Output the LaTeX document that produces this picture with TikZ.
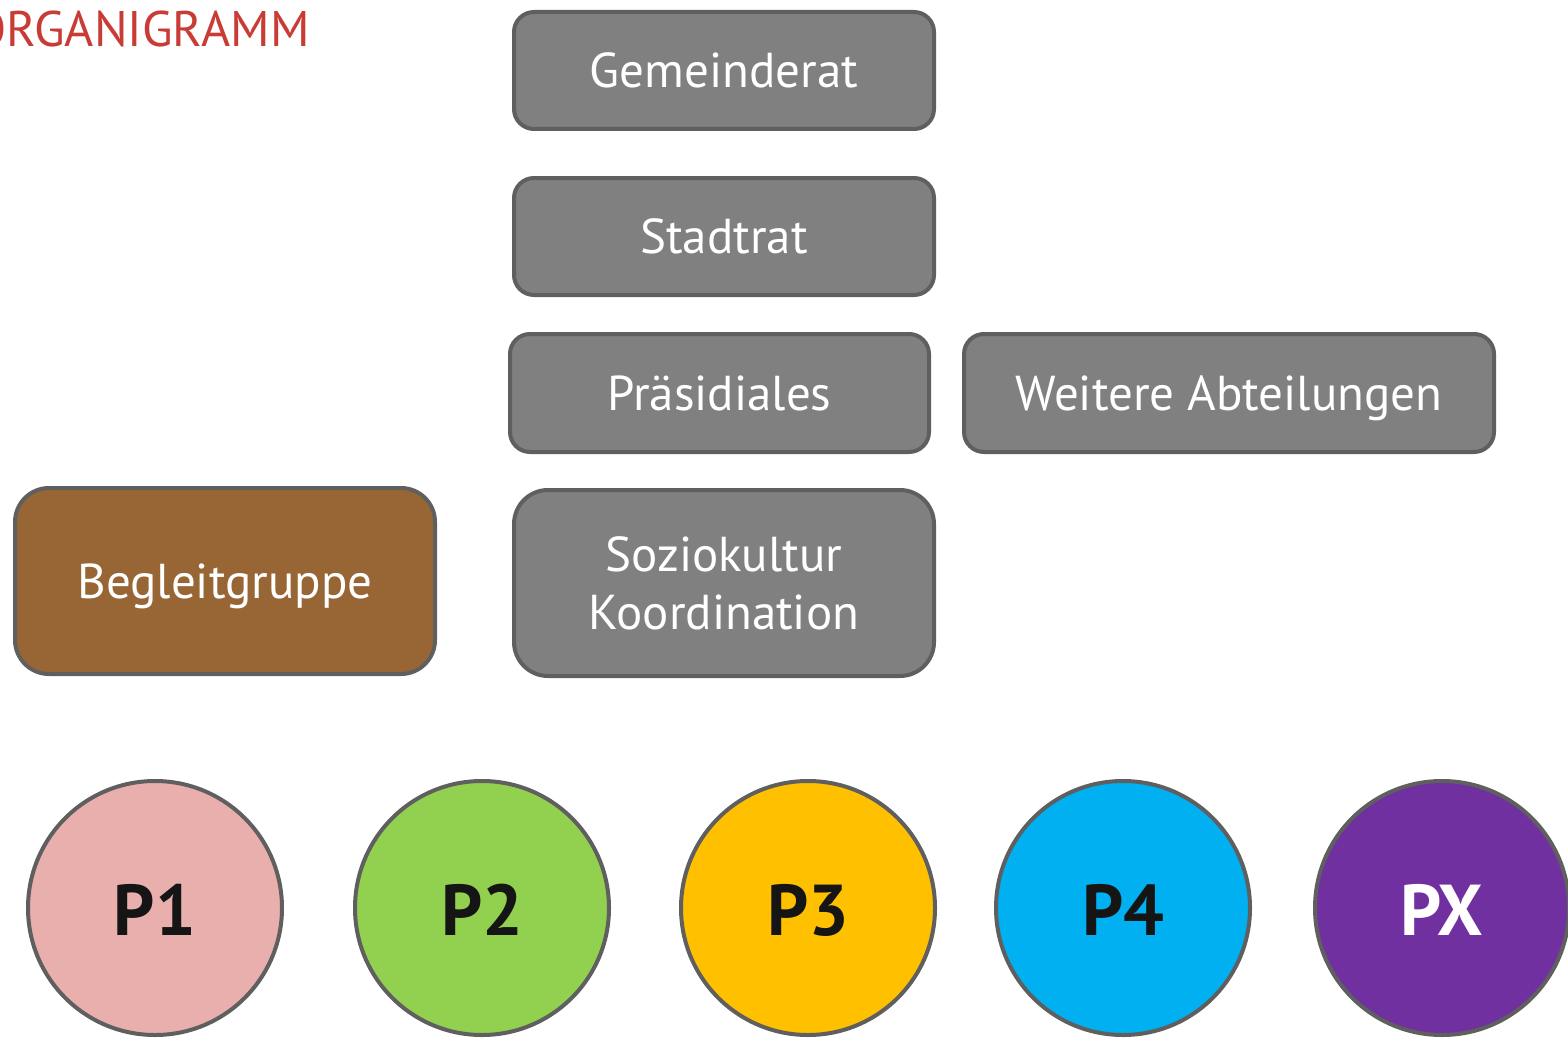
\documentclass[tikz,border=0pt]{standalone}
\usepackage{fontspec}
\setmainfont{PT Sans}
\definecolor{titlered}{HTML}{C93C36}
\definecolor{boxfill}{HTML}{808080}
\definecolor{boxedge}{HTML}{5F5F5F}
\definecolor{brownfill}{HTML}{986634}
\definecolor{pinkfill}{HTML}{E8AFAD}
\definecolor{greenfill}{HTML}{92D050}
\definecolor{yellowfill}{HTML}{FFC000}
\definecolor{bluefill}{HTML}{00B0F0}
\definecolor{violetfill}{HTML}{7030A0}
\definecolor{darktext}{HTML}{151515}
\tikzset{
  box/.style={
    rounded corners=10pt,
    align=center,
    draw=boxedge,
    line width=2pt,
    fill=boxfill,
    inner sep=0pt,
    font=\fontsize{24.5}{29}\selectfont,
    text=white,
    minimum width=210pt,
    minimum height=58.5pt
  },
  oneline/.style={text height=23pt, text depth=6pt},
  tallbox/.style={box, rounded corners=17pt, minimum height=93pt},
  project/.style={
    circle,
    draw=boxedge,
    line width=2pt,
    inner sep=0pt,
    minimum size=127pt,
    text height=30pt, text depth=3pt,
    font=\fontsize{36}{38}\selectfont\bfseries,
    text=darktext
  }
}

\begin{document}
\begin{tikzpicture}[x=0.5pt,y=-0.5pt]
  \useasboundingbox (0,0) rectangle (1568,1038);

  \node[anchor=base east, font=\fontsize{25}{29}\selectfont, text=titlered, inner sep=0pt]
    (title) at (310,47) {ORGANIGRAMM};

  % Hierarchy.
  \node[box, oneline] (gemeinderat) at (724,70.5) {Gemeinderat};
  \node[box, oneline] (stadtrat) at (724,236.5) {Stadtrat};
  \node[box, oneline, minimum width=209.5pt, minimum height=59pt] (praesidiales) at (719.5,393) {Präsidiales};
  \node[box, oneline, minimum width=265pt, minimum height=59pt] (weitere) at (1229,393) {Weitere Abteilungen};
  \node[tallbox] (koordination) at (724,583) {Soziokultur\\Koordination};
  \node[tallbox, oneline, fill=brownfill] (begleit) at (225,581) {Begleitgruppe};

  % Projects.
  \node[project, fill=pinkfill] (p1) at (155,908) {P1};
  \node[project, fill=greenfill] (p2) at (482,908) {P2};
  \node[project, fill=yellowfill] (p3) at (808,908) {P3};
  \node[project, fill=bluefill] (p4) at (1123,908) {P4};
  \node[project, fill=violetfill, text=white] (px) at (1442,908) {PX};

\end{tikzpicture}
\end{document}
